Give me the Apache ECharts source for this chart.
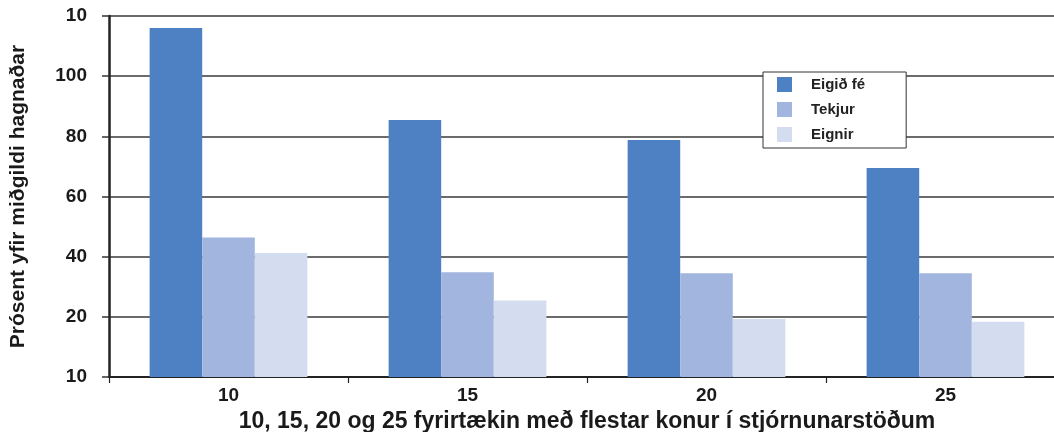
<!DOCTYPE html>
<html>
<head>
<meta charset="utf-8">
<script src="https://cdn.jsdelivr.net/npm/echarts@6/dist/echarts.min.js"></script>
<style>
  html, body { margin: 0; padding: 0; background: #fff; }
  #chart { width: 1054px; height: 432px; }
</style>
</head>
<body>
<div id="chart"></div>
<script>
const categories = ['10', '15', '20', '25'];
const seriesNames = ['Eigið fé', 'Tekjur', 'Eignir'];
const eigidFe = [116.0, 85.4, 78.8, 69.5];
const tekjur = [46.4, 34.8, 34.5, 34.5];
const eignir = [41.2, 25.4, 19.3, 18.4];
const yTickValues = [0, 20, 40, 60, 80, 100, 120];
const yTickLabels = ['10', '20', '40', '60', '80', '100', '10'];
const yAxisTitle = 'Prósent yfir miðgildi hagnaðar';
const xAxisTitle = '10, 15, 20 og 25 fyrirtækin með flestar konur í stjórnunarstöðum';
const colors = ['#4e81c4', '#a2b5df', '#d4ddef'];

const chart = echarts.init(document.getElementById('chart'), null, { renderer: 'canvas' });
const font = '"Liberation Sans", Arial, Helvetica, sans-serif';

chart.setOption({
  animation: false,
  backgroundColor: '#ffffff',
  color: colors,
  grid: { left: 109, right: -11, top: 16, bottom: 55, containLabel: false, outerBoundsMode: 'none' },
  legend: {
    data: seriesNames,
    orient: 'vertical',
    left: 763,
    top: 72,
    padding: [5, 41, 6, 14],
    itemGap: 10,
    itemWidth: 15,
    itemHeight: 15,
    icon: 'rect',
    backgroundColor: '#ffffff',
    borderColor: '#333333',
    borderWidth: 1,
    z: 10,
    textStyle: { fontFamily: font, fontWeight: 'bold', fontSize: 15, color: '#222', padding: [0, 0, 0, 14] }
  },
  xAxis: {
    type: 'category',
    data: categories,
    name: xAxisTitle,
    nameLocation: 'middle',
    nameGap: 30,
    nameTextStyle: { fontFamily: font, fontWeight: 'bold', fontSize: 23, color: '#1a1a1a' },
    axisLine: { show: true, lineStyle: { color: '#222', width: 2 } },
    axisTick: { show: true, alignWithLabel: false, length: 6, lineStyle: { color: '#222', width: 1.2 } },
    axisLabel: { fontFamily: font, fontWeight: 'bold', fontSize: 19, color: '#1a1a1a', margin: 9 },
    splitLine: { show: false }
  },
  yAxis: {
    type: 'value',
    min: 0,
    max: 120,
    interval: 20,
    name: yAxisTitle,
    nameLocation: 'middle',
    nameGap: 80,
    nameRotate: 90,
    nameTextStyle: { fontFamily: font, fontWeight: 'bold', fontSize: 21, color: '#1a1a1a' },
    axisLine: { show: true, lineStyle: { color: '#222', width: 2.5 } },
    axisTick: { show: true, inside: false, length: 7, lineStyle: { color: '#333', width: 1.5 } },
    axisLabel: {
      fontFamily: font, fontWeight: 'bold', fontSize: 19, color: '#1a1a1a', margin: 22,
      formatter: function (v) {
        const i = yTickValues.indexOf(v);
        return i >= 0 ? yTickLabels[i] : '';
      }
    },
    splitLine: { show: true, lineStyle: { color: '#3a3a3a', width: 1.5 } }
  },
  series: [
    { name: seriesNames[0], type: 'bar', data: eigidFe, barGap: '0%', barCategoryGap: '34%', itemStyle: { color: colors[0] } },
    { name: seriesNames[1], type: 'bar', data: tekjur, barGap: '0%', barCategoryGap: '34%', itemStyle: { color: colors[1] } },
    { name: seriesNames[2], type: 'bar', data: eignir, barGap: '0%', barCategoryGap: '34%', itemStyle: { color: colors[2] } }
  ]
});
</script>
</body>
</html>
